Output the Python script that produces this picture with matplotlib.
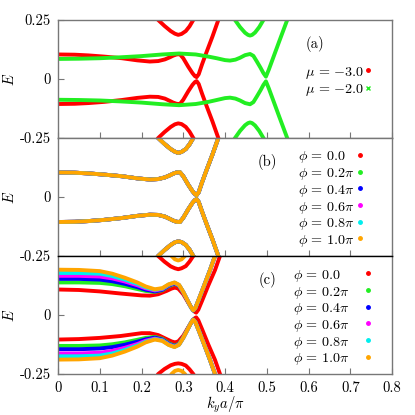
import matplotlib
matplotlib.use('Agg')
import matplotlib.pyplot as plt

plt.rcParams['mathtext.fontset'] = 'cm'
plt.rcParams['font.family'] = 'cmr10'
plt.rcParams['axes.unicode_minus'] = False
plt.rcParams['font.size'] = 10.5

# ---- panel (a): two chemical potentials ----
mu_labels = [r'$\mu\,=\,{-}3.0$', r'$\mu\,=\,{-}2.0$']
mu_colors = ['#ff0000', '#22ee22']
mu_markers = ['o', 'x']

# mu = -3.0 (also used in panel b, where all phi coincide)
k_m3 = [0, 0.04, 0.073, 0.11, 0.153, 0.19, 0.22, 0.24, 0.256, 0.268, 0.276, 0.284,
        0.292, 0.30, 0.312, 0.322, 0.328, 0.332, 0.337, 0.345, 0.356, 0.37, 0.384, 0.395]
E_m3_up = [0.104, 0.103, 0.100, 0.095, 0.088, 0.079, 0.074, 0.076, 0.083, 0.092, 0.099, 0.104,
           0.105, 0.088, 0.052, 0.025, 0.012, 0.008, 0.020, 0.062, 0.115, 0.180, 0.250, 0.300]
E_m3_dn = [-0.106, -0.105, -0.102, -0.097, -0.089, -0.080, -0.075, -0.076, -0.083, -0.093, -0.100, -0.105,
           -0.106, -0.088, -0.052, -0.025, -0.013, -0.009, -0.021, -0.062, -0.115, -0.180, -0.250, -0.300]
k_arc_m3 = [0.225, 0.24, 0.255, 0.27, 0.28, 0.288, 0.296, 0.306, 0.315, 0.324, 0.338]
E_arc_m3_top = [0.285, 0.25, 0.225, 0.203, 0.192, 0.187, 0.191, 0.203, 0.223, 0.25, 0.29]
E_arc_m3_bot = [-0.285, -0.25, -0.225, -0.203, -0.192, -0.188, -0.191, -0.203, -0.223, -0.25, -0.29]

# mu = -2.0
k_m2 = [0, 0.05, 0.1, 0.15, 0.2, 0.25, 0.29, 0.33, 0.36, 0.38, 0.40, 0.412, 0.425,
        0.436, 0.448, 0.46, 0.468, 0.476, 0.485, 0.492, 0.498, 0.505, 0.515, 0.53, 0.549, 0.56]
E_m2_up = [0.085, 0.086, 0.088, 0.092, 0.097, 0.104, 0.108, 0.104, 0.095, 0.088, 0.080, 0.078, 0.082,
           0.090, 0.101, 0.106, 0.098, 0.075, 0.048, 0.025, 0.010, 0.040, 0.088, 0.160, 0.250, 0.300]
E_m2_dn = [-0.088, -0.089, -0.091, -0.095, -0.100, -0.107, -0.111, -0.106, -0.097, -0.089, -0.081, -0.079, -0.083,
           -0.091, -0.102, -0.107, -0.098, -0.075, -0.048, -0.025, -0.010, -0.040, -0.088, -0.160, -0.250, -0.300]
k_arc_m2 = [0.41, 0.424, 0.436, 0.448, 0.455, 0.46, 0.465, 0.472, 0.482, 0.492, 0.505]
E_arc_m2_top = [0.29, 0.25, 0.220, 0.196, 0.187, 0.184, 0.187, 0.197, 0.220, 0.25, 0.29]
E_arc_m2_bot = [-0.29, -0.25, -0.220, -0.196, -0.187, -0.184, -0.187, -0.197, -0.220, -0.25, -0.29]

# ---- panels (b), (c): phases ----
phi_labels = [r'$\phi\,=\,0.0$', r'$\phi\,=\,0.2\pi$', r'$\phi\,=\,0.4\pi$',
              r'$\phi\,=\,0.6\pi$', r'$\phi\,=\,0.8\pi$', r'$\phi\,=\,1.0\pi$']
phi_colors = ['#ff0000', '#22ee22', '#0000ff', '#ff00ff', '#00eeee', '#ffa500']

# panel (c), phi = 0
k_c0 = [0, 0.05, 0.1, 0.15, 0.2, 0.22, 0.24, 0.26, 0.272, 0.28, 0.288, 0.30,
        0.312, 0.322, 0.328, 0.331, 0.336, 0.345, 0.36, 0.376, 0.388, 0.398]
E_c0_up = [0.108, 0.106, 0.100, 0.091, 0.083, 0.082, 0.088, 0.102, 0.112, 0.116, 0.112, 0.088,
           0.052, 0.025, 0.013, 0.010, 0.022, 0.060, 0.125, 0.19, 0.25, 0.30]
E_c0_dn = [-0.104, -0.102, -0.097, -0.089, -0.077, -0.077, -0.085, -0.102, -0.112, -0.116, -0.112, -0.088,
           -0.052, -0.025, -0.013, -0.010, -0.022, -0.060, -0.125, -0.19, -0.25, -0.30]

# panel (c), phi = 0.2pi ... 1.0pi
k_c = [0, 0.05, 0.1, 0.13, 0.16, 0.19, 0.21, 0.232, 0.25, 0.265, 0.279,
       0.29, 0.30, 0.312, 0.319, 0.324, 0.329, 0.338, 0.35, 0.364, 0.376, 0.385]
E_c2_up = [0.138, 0.138, 0.136, 0.131, 0.122, 0.110, 0.102, 0.098, 0.105, 0.122, 0.132,
           0.124, 0.096, 0.055, 0.031, 0.019, 0.029, 0.068, 0.124, 0.19, 0.25, 0.29]
E_c4_up = [0.153, 0.153, 0.150, 0.143, 0.132, 0.118, 0.107, 0.100, 0.107, 0.125, 0.134,
           0.125, 0.097, 0.055, 0.031, 0.019, 0.030, 0.069, 0.125, 0.19, 0.25, 0.29]
E_c6_up = [0.166, 0.166, 0.163, 0.155, 0.142, 0.126, 0.113, 0.104, 0.110, 0.127, 0.136,
           0.126, 0.097, 0.056, 0.032, 0.020, 0.030, 0.070, 0.125, 0.19, 0.25, 0.29]
E_c8_up = [0.178, 0.178, 0.175, 0.165, 0.150, 0.132, 0.117, 0.107, 0.112, 0.129, 0.137,
           0.127, 0.098, 0.056, 0.032, 0.020, 0.030, 0.070, 0.125, 0.19, 0.25, 0.29]
E_c10_up = [0.192, 0.191, 0.186, 0.175, 0.158, 0.138, 0.121, 0.109, 0.114, 0.130, 0.138,
            0.128, 0.098, 0.056, 0.032, 0.020, 0.030, 0.070, 0.125, 0.19, 0.25, 0.29]
E_c2_dn = [-0.131, -0.131, -0.129, -0.124, -0.116, -0.105, -0.097, -0.093, -0.101, -0.119, -0.130,
           -0.122, -0.095, -0.055, -0.031, -0.019, -0.029, -0.068, -0.124, -0.19, -0.25, -0.29]
E_c4_dn = [-0.145, -0.145, -0.142, -0.136, -0.126, -0.113, -0.103, -0.096, -0.104, -0.122, -0.132,
           -0.124, -0.096, -0.055, -0.031, -0.019, -0.030, -0.069, -0.125, -0.19, -0.25, -0.29]
E_c6_dn = [-0.163, -0.163, -0.160, -0.152, -0.139, -0.123, -0.109, -0.100, -0.107, -0.124, -0.134,
           -0.125, -0.097, -0.056, -0.032, -0.020, -0.030, -0.070, -0.125, -0.19, -0.25, -0.29]
E_c8_dn = [-0.175, -0.175, -0.172, -0.163, -0.148, -0.129, -0.113, -0.102, -0.108, -0.126, -0.135,
           -0.126, -0.097, -0.056, -0.032, -0.020, -0.030, -0.070, -0.125, -0.19, -0.25, -0.29]
E_c10_dn = [-0.189, -0.188, -0.183, -0.172, -0.155, -0.134, -0.116, -0.104, -0.110, -0.127, -0.136,
            -0.126, -0.097, -0.056, -0.032, -0.020, -0.030, -0.070, -0.125, -0.19, -0.25, -0.29]

# outer arcs in panel (c)
E_arc_c0_top = [0.29, 0.25, 0.226, 0.206, 0.198, 0.194, 0.198, 0.207, 0.226, 0.25, 0.29]
E_arc_c0_bot = [-0.29, -0.25, -0.229, -0.213, -0.207, -0.205, -0.207, -0.214, -0.230, -0.25, -0.29]
k_arc_c10 = [0.262, 0.272, 0.28, 0.288, 0.296, 0.304, 0.314]
E_arc_c10_top = [0.28, 0.25, 0.236, 0.231, 0.236, 0.25, 0.28]
E_arc_c10_bot = [-0.28, -0.25, -0.237, -0.233, -0.237, -0.25, -0.28]

xticks = [0, 0.1, 0.2, 0.3, 0.4, 0.5, 0.6, 0.7, 0.8]
xticklabels = ['0', '0.1', '0.2', '0.3', '0.4', '0.5', '0.6', '0.7', '0.8']

LW = 2.8
GRAY = '#777777'


def band(ax, k, E, c, lw=LW):
    ax.plot(k, E, color=c, lw=lw, solid_capstyle='round', solid_joinstyle='round')


def style(ax, yticks, ylabels, xlab=False):
    ax.set_xlim(0, 0.8)
    ax.set_ylim(-0.25, 0.25)
    ax.set_xticks(xticks)
    ax.set_yticks(yticks)
    ax.set_yticklabels(ylabels)
    if xlab:
        ax.set_xticklabels(xticklabels)
        ax.set_xlabel(r'$k_y a/\pi$', labelpad=0)
    else:
        ax.set_xticklabels([])
    ax.tick_params(direction='in', length=4, width=0.8, color=GRAY, pad=5)
    for s in ax.spines.values():
        s.set_color(GRAY)
        s.set_linewidth(1.0)
    ax.set_ylabel(r'$E$', labelpad=2)


def key(ax, labels, colors, markers, x_text, x_mark, y0, step):
    # gnuplot-style key: left aligned text, sample point to the right
    for i, (lab, c, m) in enumerate(zip(labels, colors, markers)):
        y = y0 - i * step
        ax.text(x_text, y, lab, transform=ax.transAxes, ha='left', va='center_baseline',
                fontsize=10.2)
        ax.plot([x_mark], [y], transform=ax.transAxes, ls='none', marker=m,
                ms=2.5, mew=1, color=c, clip_on=False)


fig = plt.figure(figsize=(4.15, 4.15), dpi=100)
L, W, H = 58 / 415, 334 / 415, 118 / 415
ax_a = fig.add_axes([L, 1 - 138 / 415, W, H])
ax_b = fig.add_axes([L, 1 - 256 / 415, W, H])
ax_c = fig.add_axes([L, 1 - 374 / 415, W, H])

# (a)
for c, k, up, dn, ka, at, ab in [
        (mu_colors[0], k_m3, E_m3_up, E_m3_dn, k_arc_m3, E_arc_m3_top, E_arc_m3_bot),
        (mu_colors[1], k_m2, E_m2_up, E_m2_dn, k_arc_m2, E_arc_m2_top, E_arc_m2_bot)]:
    band(ax_a, k, up, c)
    band(ax_a, k, dn, c)
    band(ax_a, ka, at, c)
    band(ax_a, ka, ab, c)
style(ax_a, [-0.25, 0, 0.25], ['-0.25', '0', '0.25'])
ax_a.text(0.769, 0.797, '(a)', transform=ax_a.transAxes, ha='center', va='center')
key(ax_a, mu_labels, mu_colors, mu_markers, 0.740, 0.928, 0.576, 0.152)

# (b): all phases coincide
for c in phi_colors:
    band(ax_b, k_m3, E_m3_up, c)
    band(ax_b, k_m3, E_m3_dn, c)
    band(ax_b, k_arc_m3, E_arc_m3_top, c)
    band(ax_b, k_arc_m3, E_arc_m3_bot, c)
style(ax_b, [-0.25, 0], ['-0.25', '0'])
ax_b.text(0.626, 0.797, '(b)', transform=ax_b.transAxes, ha='center', va='center')
key(ax_b, phi_labels, phi_colors, ['o'] * 6, 0.719, 0.904, 0.856, 0.1415)

# (c)
band(ax_c, k_c0, E_c0_up, phi_colors[0])
band(ax_c, k_c0, E_c0_dn, phi_colors[0])
band(ax_c, k_arc_m3, E_arc_c0_top, phi_colors[0])
band(ax_c, k_arc_m3, E_arc_c0_bot, phi_colors[0])
for c, up, dn in zip(phi_colors[1:], [E_c2_up, E_c4_up, E_c6_up, E_c8_up, E_c10_up],
                     [E_c2_dn, E_c4_dn, E_c6_dn, E_c8_dn, E_c10_dn]):
    band(ax_c, k_c, up, c)
    band(ax_c, k_c, dn, c)
band(ax_c, k_arc_c10, E_arc_c10_top, phi_colors[5])
band(ax_c, k_arc_c10, E_arc_c10_bot, phi_colors[5])
style(ax_c, [-0.25, 0], ['-0.25', '0'], xlab=True)
ax_c.spines['top'].set_color('black')
ax_c.text(0.626, 0.797, '(c)', transform=ax_c.transAxes, ha='center', va='center')
key(ax_c, phi_labels, phi_colors, ['o'] * 6, 0.704, 0.928, 0.853, 0.1414)

fig.savefig('out.png', dpi=100)
